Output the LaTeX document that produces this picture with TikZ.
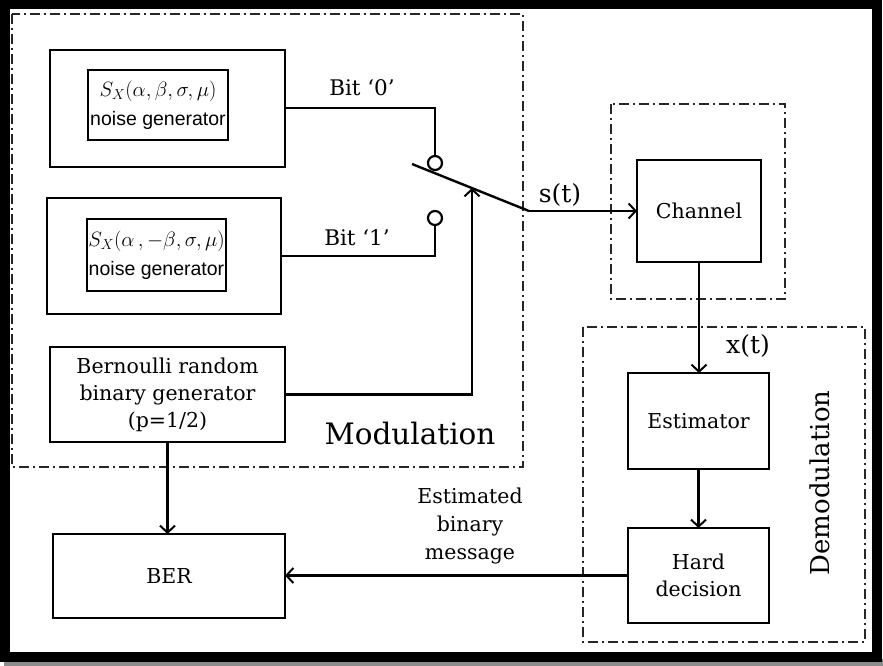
\documentclass[tikz,border=0pt]{standalone}
\usepackage{fontspec}
\setmainfont{DejaVu Serif}
\newfontfamily\arialf{Liberation Sans}
\usetikzlibrary{arrows.meta}
\begin{document}
\begin{tikzpicture}[x=1pt,y=-1pt,
  blk/.style={draw, line width=2.8pt, inner sep=0pt, outer sep=0pt, align=center,
     font=\fontsize{20.5}{27}\selectfont},
  inbox/.style={draw, line width=1.6pt, inner sep=0pt, outer sep=0pt, align=center,
     font=\fontsize{20}{29}\selectfont},
  conn/.style={line width=2.3pt},
  arr/.style={line width=2.3pt, -{Straight Barb[length=7pt,width=15pt,line width=2pt]}},
  grp/.style={line width=1.7pt, dash pattern=on 10pt off 4pt on 2pt off 4pt, black!85},
  lbl/.style={inner sep=0pt, align=center, font=\fontsize{21.5}{28}\selectfont},
  sw/.style={circle, draw, line width=2.2pt, minimum size=14pt, inner sep=0pt, outer sep=0pt}
]
\useasboundingbox (0,0) rectangle (883,666);
% frame with shadow
\fill[black!45] (4,659) rectangle (883,666);
\draw[line width=9.5pt] (5,4) rectangle (877,657);

% group boxes
\draw[grp] (12,14) rectangle (523,467);
\draw[grp] (611,104) rectangle (785,299);
\draw[grp] (583,327) rectangle (865,642);

% generator 0
\node[blk, minimum width=235pt, minimum height=117pt] (gen0) at (167.5,108.5) {};
\node[inbox, minimum width=140pt, minimum height=70pt] (in0) at (158,105)
  {$S_X(\alpha,\beta,\sigma,\mu)$\\
   {\arialf\fontsize{19.5}{29}\selectfont noise generator}};
% generator 1
\node[blk, minimum width=234pt, minimum height=116pt] (gen1) at (164,256) {};
\node[inbox, minimum width=139pt, minimum height=72pt] (in1) at (156.5,255)
  {$S_X(\alpha\,,-\beta,\sigma,\mu)$\\
   {\arialf\fontsize{19.5}{29}\selectfont noise generator}};

% Bernoulli and BER
\node[blk, minimum width=235pt, minimum height=95pt] (bern) at (167.5,394.5)
  {Bernoulli random\\binary generator\\(p=1/2)};
\node[blk, minimum width=232pt, minimum height=84pt] (ber) at (169,576) {BER};

% channel, estimator, hard decision
\node[blk, minimum width=124pt, minimum height=102pt] (chan) at (699,211) {Channel};
\node[blk, minimum width=141pt, minimum height=96pt] (est) at (698.5,421) {Estimator};
\node[blk, minimum width=141pt, minimum height=95pt] (hard) at (698.5,575.5) {Hard\\decision};

% switch contacts
\node[sw] (c0) at (435,163) {};
\node[sw] (c1) at (435,218) {};
\coordinate (sw0) at (412,164);
\coordinate (sw1) at (529,211);
\coordinate (swp) at (472,188);

% connectors
\draw[conn] (gen0.east |- 0,108) -| (c0.north);
\draw[conn] (gen1.east) -| (c1.south);
\draw[conn, line width=2.4pt] (sw0) -- (sw1);
\draw[arr] (sw1) -- (chan.west);
\draw[arr] (bern.east) -| (swp);
\draw[arr] (bern.south) -- (bern.south |- ber.north);
\draw[arr] (chan.south) -- (chan.south |- est.north);
\draw[arr] (est.south) -- (hard.north);
\draw[arr] (hard.west) -- (ber.east |- hard.west);

% labels
\node[lbl] (b0) at (362,88) {Bit ‘0’};
\node[lbl] (b1) at (357,238) {Bit ‘1’};
\node[lbl, font=\fontsize{25}{28}\selectfont] (st) at (560,195) {s(t)};
\node[lbl, font=\fontsize{25}{28}\selectfont] (xt) at (748,346) {x(t)};
\node[lbl, font=\fontsize{29.5}{32}\selectfont] (modl) at (410,433) {Modulation};
\node[lbl, font=\fontsize{26}{30}\selectfont, rotate=90] (demodl) at (820,483) {Demodulation};
\node[lbl, font=\fontsize{20.5}{28}\selectfont] (ebm) at (470,526) {Estimated\\binary\\message};
\end{tikzpicture}
\end{document}
